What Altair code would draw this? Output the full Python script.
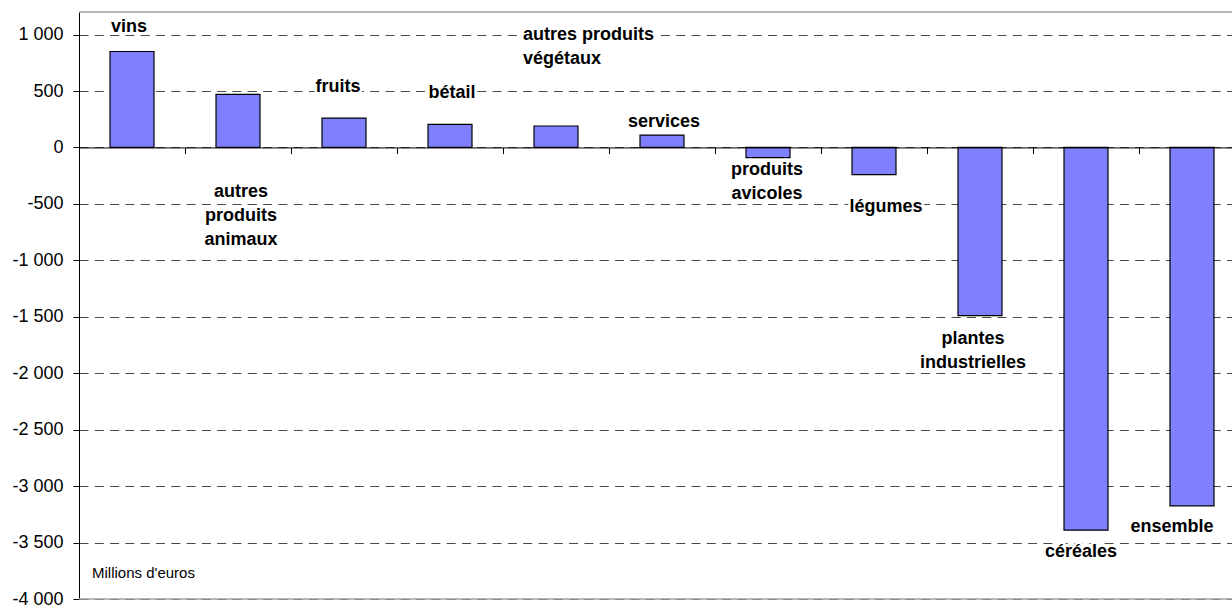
import altair as alt
import pandas as pd

# Product groups and their change, in millions of euros
categories = [
    "vins", "autres produits animaux", "fruits", "bétail",
    "autres produits végétaux", "services", "produits avicoles",
    "légumes", "plantes industrielles", "céréales", "ensemble",
]
values = [850, 470, 260, 205, 190, 110, -90, -240, -1490, -3390, -3175]

# Label text (with line breaks) and placement around each bar end, in pixels
label_text = [
    "vins", "autres\nproduits\nanimaux", "fruits", "bétail",
    "autres produits\nvégétaux", "services", "produits\navicoles",
    "légumes", "plantes\nindustrielles", "céréales", "ensemble",
]
label_dx = [-3, 3, -6, 2, -33, 2, -1, 12, -7, -5, -20]
label_dy = [-19.5, 102.6, -26.1, -26.3, -86.3, -8, 17.1, 37.5, 28.4, 27.3, 26.1]
label_align = ["center", "center", "center", "center", "left", "center",
               "center", "center", "center", "center", "center"]

y_ticks = list(range(-4000, 1001, 500))

df = pd.DataFrame({
    "cat": categories,
    "value": values,
    "label": label_text,
    "dx": label_dx,
    "dy": label_dy,
    "anchor": label_align,
})

FONT = "Liberation Sans"
STEP = 106  # width of one category slot
PLOT_W = 1153
PLOT_H = 587
Y_MIN, Y_MAX = -4000, 1200
UNITS_PER_PX = (Y_MAX - Y_MIN) / PLOT_H
zero_from_bottom = PLOT_H * (0 - Y_MIN) / (Y_MAX - Y_MIN)

x_scale = alt.Scale(domain=categories, range=[0, STEP * len(categories)],
                    paddingInner=0, paddingOuter=0)
y_scale = alt.Scale(domain=[Y_MIN, Y_MAX], nice=False, zero=False)

label_expr = ("(datum.value < 0 ? '-' : '') + "
              "replace(format(abs(datum.value), ','), ',', ' ')")

# The category axis sits on the zero line, with ticks between the groups
bars = alt.Chart(df).mark_bar(
    color="#8080FF", stroke="black", strokeWidth=1.2,
    width=alt.RelativeBandSize(0.415),
).encode(
    x=alt.X("cat:N", sort=categories, scale=x_scale,
            axis=alt.Axis(labels=False, title=None, grid=False,
                          domainColor="black", domainWidth=1,
                          tickColor="black", tickSize=6, tickWidth=1,
                          tickBand="extent", offset=-zero_from_bottom,
                          zindex=1)),
    y=alt.Y("value:Q", scale=y_scale,
            axis=alt.Axis(values=y_ticks, labelExpr=label_expr, title=None,
                          labelFont=FONT, labelFontSize=18, labelColor="black",
                          labelPadding=10, domainColor="black", domainWidth=1,
                          tickColor="black", tickSize=6, tickWidth=1,
                          grid=True, gridColor="#4a4a4a", gridDash=[9, 6.3],
                          gridWidth=1.1)),
    y2=alt.datum(0),
)

frame = alt.Chart(pd.DataFrame({"v": [Y_MAX, Y_MIN]})).mark_rule(
    color="#a0a0a0", strokeWidth=1.5
).encode(y=alt.Y("v:Q", scale=y_scale))


def labels(anchor):
    base = alt.Chart(df).transform_filter(
        alt.datum.anchor == anchor
    ).transform_calculate(
        ox=f"datum.dx + {STEP / 2}",
        ly=f"datum.value - datum.dy * {UNITS_PER_PX}",
    ).encode(
        x=alt.X("cat:N", sort=categories, scale=x_scale),
        y=alt.Y("ly:Q", scale=y_scale),
        xOffset=alt.XOffset("ox:Q", scale=None),
        text="label:N",
    )
    style = dict(align=anchor, baseline="alphabetic", font=FONT, fontSize=18,
                 fontWeight="bold", lineBreak="\n", lineHeight=23.8)
    halo = base.mark_text(color="white", stroke="white", strokeWidth=5,
                          strokeJoin="round", **style)
    ink = base.mark_text(color="black", **style)
    return halo + ink


unit_note = alt.Chart(pd.DataFrame({"t": ["Millions d'euros"]})).mark_text(
    align="left", baseline="alphabetic", font=FONT, fontSize=15, color="black"
).encode(x=alt.value(13), y=alt.datum(-3815), text="t:N")

chart = alt.layer(
    bars, frame, labels("center"), labels("left"), unit_note
).properties(
    width=PLOT_W, height=PLOT_H,
    autosize=alt.AutoSizeParams(type="none"),
    padding={"left": 79, "top": 12, "right": 0, "bottom": 6},
    background="white",
).configure_view(stroke=None)

chart.save("out.html", embed_options={"renderer": "svg", "actions": False})
